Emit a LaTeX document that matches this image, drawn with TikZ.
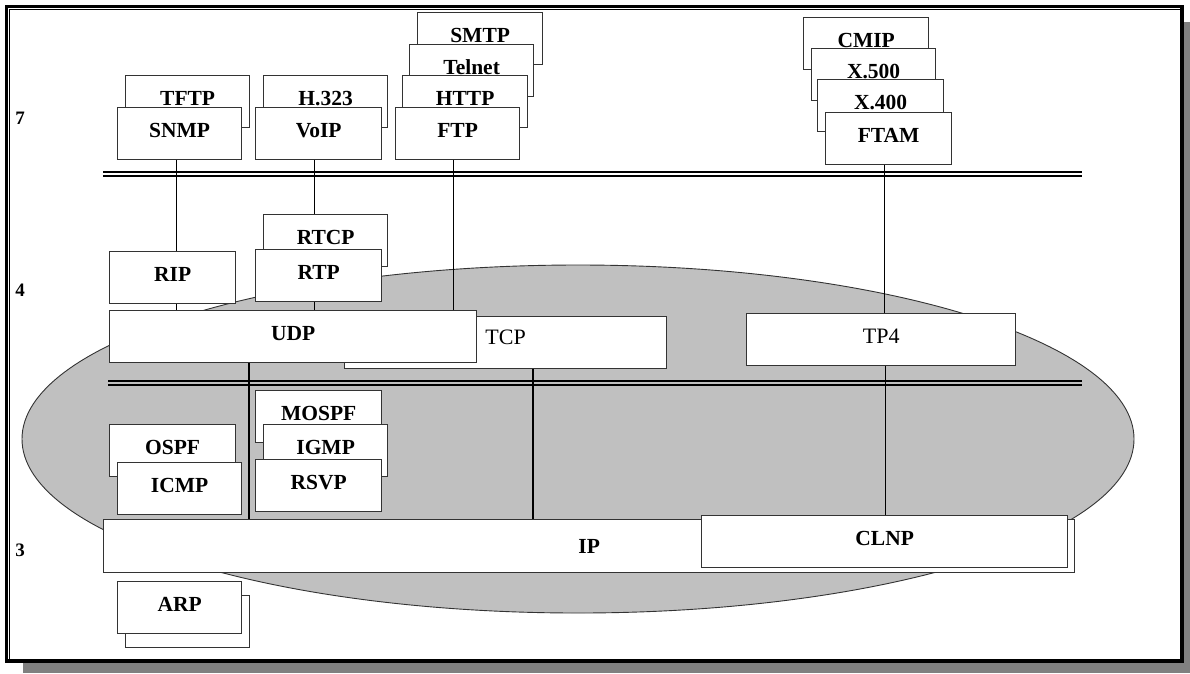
\documentclass[tikz,border=0pt]{standalone}
\usepackage{fontspec}
\setmainfont{Liberation Serif}
\definecolor{boxc}{HTML}{333333}
\definecolor{ellc}{HTML}{C0C0C0}
\definecolor{shadc}{HTML}{808080}
\begin{document}
\begin{tikzpicture}[x=1pt,y=-1pt,
  pbox/.style={draw=boxc, fill=white, line width=1.3pt, inner xsep=0pt, inner ysep=0pt,
    text height=30pt, text depth=22pt, anchor=north west,
    font=\fontsize{21.5}{24}\selectfont\bfseries},
  regbox/.style={pbox, font=\fontsize{22}{24}\selectfont},
  conn/.style={draw=black, line width=1.1pt},
  dbl/.style={draw=black, line width=2pt},
  numlbl/.style={font=\fontsize{19}{22}\selectfont\bfseries, inner sep=0pt}]
\useasboundingbox (0,0) rectangle (1190,673);
% shadow and frame
\fill[shadc] (23,663) rectangle (1190,673);
\fill[shadc] (1184,22) rectangle (1190,673);
\draw[black, line width=3.5pt] (6.5,6.5) rectangle (1182,661);
\draw[black, line width=1.2pt] (9.8,659) -- (9.8,9.8) -- (1180,9.8);
% ellipse
\draw[fill=ellc, draw=boxc, line width=0.9pt] (578,439) ellipse [x radius=556, y radius=174];
% double lines
\draw[dbl] (103,172) -- (1082,172);
\draw[dbl] (103,176) -- (1082,176);
\draw[dbl] (108,381) -- (1082,381);
\draw[dbl] (108,385) -- (1082,385);
% layer numbers
\node[numlbl] (n7) at (20,118) {7};
\node[numlbl] (n4) at (20,290) {4};
\node[numlbl] (n3) at (20,550) {3};
% layer 7
\node[pbox, minimum width=124pt] (tftp) at (125,75) {TFTP};
\node[pbox, minimum width=124pt] (snmp) at (117,107) {SNMP};
\node[pbox, minimum width=124pt] (h323) at (263,75) {H.323};
\node[pbox, minimum width=126pt] (voip) at (255,107) {VoIP};
\node[pbox, minimum width=125pt] (smtp) at (417,12) {SMTP};
\node[pbox, minimum width=124pt] (telnet) at (409,44) {Telnet};
\node[pbox, minimum width=125pt] (http) at (402,75) {HTTP};
\node[pbox, minimum width=124pt] (ftp) at (395,107) {FTP};
\node[pbox, minimum width=125pt] (cmip) at (803,17) {CMIP};
\node[pbox, minimum width=124pt] (x500) at (811,48) {X.500};
\node[pbox, minimum width=126pt] (x400) at (817,79) {X.400};
\node[pbox, minimum width=126pt] (ftam) at (825,112) {FTAM};
% connector start points
\coordinate (c1) at ([xshift=-3pt]snmp.south);
\coordinate (c3) at ([xshift=-4pt]voip.south);
\coordinate (c5) at ([xshift=-4pt]ftp.south);
\coordinate (c8) at ([xshift=-4pt]ftam.south);
% lower box corners
\coordinate (ripnw) at (109,251);
\coordinate (rtcpnw) at (263,214);
\coordinate (udpnw) at (109,310);
\coordinate (tcpnw) at (344,316);
\coordinate (tp4nw) at (746,313);
\coordinate (ipnw) at (103,519);
\coordinate (clnpnw) at (701,515);
\draw[conn] (c1) -- (c1 |- ripnw);
\draw[conn] (c3) -- (c3 |- rtcpnw);
\draw[conn] (c5) -- (c5 |- tcpnw);
\draw[conn] (c8) -- (c8 |- tp4nw);
% layer 4
\node[pbox, minimum width=124pt] (rtcp) at (rtcpnw) {RTCP};
\node[pbox, minimum width=126pt] (rtp) at (255,249) {RTP};
\node[pbox, minimum width=126pt] (rip) at (ripnw) {RIP};
\coordinate (c2) at ([xshift=4pt]rip.south);
\coordinate (c4) at ([xshift=-4pt]rtp.south);
\draw[conn] (c2) -- (c2 |- udpnw);
\draw[conn] (c4) -- (c4 |- udpnw);
\node[regbox, minimum width=322pt, text height=28pt, text depth=24pt] (tcp) at (tcpnw) {TCP};
\node[pbox, minimum width=367pt] (udp) at (udpnw) {UDP};
\node[regbox, minimum width=269pt] (tp4) at (tp4nw) {TP4};
\coordinate (c6) at ([xshift=140pt]udp.south west);
\coordinate (c7) at ([xshift=189pt]tcp.south west);
\coordinate (c9) at ([xshift=4pt]tp4.south);
\draw[conn] (c6) -- (c6 |- ipnw);
\draw[conn] (c7) -- (c7 |- ipnw);
\draw[conn] (c9) -- (c9 |- clnpnw);
% layer 3
\node[pbox, minimum width=126pt] (mospf) at (255,390) {MOSPF};
\node[pbox, minimum width=124pt] (igmp) at (263,424) {IGMP};
\node[pbox, minimum width=126pt] (rsvp) at (255,459) {RSVP};
\node[pbox, minimum width=126pt] (ospf) at (109,424) {OSPF};
\node[pbox, minimum width=124pt] (icmp) at (117,462) {ICMP};
\node[pbox, minimum width=971pt, text height=34pt, text depth=19pt] (ip) at (ipnw) {IP};
\node[pbox, minimum width=366pt] (clnp) at (clnpnw) {CLNP};
\node[pbox, minimum width=124pt] (arpb) at (125,595) {};
\node[pbox, minimum width=124pt] (arp) at (117,581) {ARP};
\end{tikzpicture}
\end{document}
